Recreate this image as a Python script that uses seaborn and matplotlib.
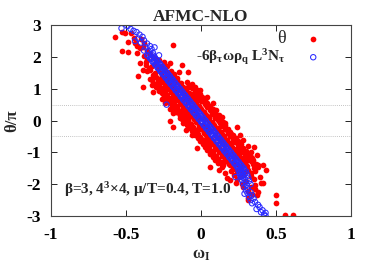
import matplotlib
matplotlib.use("Agg")
import matplotlib.pyplot as plt
import seaborn as sns
import pandas as pd

# (omega_I, theta/pi)
red_pts = [
    (-0.573, 2.63), (-0.53, 2.77), (-0.51, 2.75), (-0.47, 2.75), (-0.49, 2.47), (-0.53, 2.19),
    (-0.49, 2.15), (-0.43, 2.34), (-0.43, 2.12), (-0.19, 2.37), (-0.41, 1.81), (-0.37, 1.74),
    (-0.42, 1.40), (-0.39, 1.59), (-0.34, 1.59), (-0.32, 1.43), (-0.29, 1.27), (-0.21, 1.81),
    (-0.13, 1.74), (-0.09, 1.52), (-0.15, 1.52), (-0.19, 1.27), (-0.25, 1.05), (-0.33, 1.12),
    (-0.39, 1.05), (-0.14, 1.12), (-0.09, 1.05),
    (-0.45, 2.6), (-0.40, 2.55), (-0.38, 2.45), (-0.41, 2.28), (-0.36, 2.2), (-0.38, 2.02),
    (-0.34, 2.08), (-0.31, 1.95), (-0.36, 1.9), (-0.30, 1.82), (-0.28, 1.9), (-0.33, 1.7),
    (-0.26, 1.7), (-0.29, 1.62), (-0.24, 1.6), (-0.27, 1.5), (-0.22, 1.45), (-0.30, 1.38),
    (-0.25, 1.35), (-0.20, 1.38), (-0.23, 1.25), (-0.27, 1.2), (-0.17, 1.22), (-0.21, 1.15),
    (-0.30, 1.05), (-0.19, 1.05), (-0.12, 1.0), (-0.23, 0.98), (-0.16, 0.95), (-0.20, 0.9),
    (-0.28, 0.92), (-0.32, 0.9), (-0.10, 0.92), (-0.13, 0.88), (-0.17, 0.82), (-0.24, 0.8),
    (-0.07, 0.83), (-0.01, 0.96), (-0.05, 0.85), (-0.11, 0.78), (-0.20, 0.72), (-0.15, 0.7),
    (-0.09, 0.72), (0.04, 0.74), (-0.03, 0.7), (-0.26, 0.68), (-0.12, 0.65), (-0.06, 0.62),
    (-0.18, 0.6), (-0.22, 0.58), (0.00, 0.6), (-0.09, 0.57), (-0.24, 0.55), (0.08, 0.55),
    (-0.14, 0.52), (-0.04, 0.5), (0.03, 0.48), (-0.19, 0.48), (-0.11, 0.45), (-0.07, 0.42),
    (-0.16, 0.4), (0.05, 0.42), (-0.01, 0.38), (-0.21, 0.36), (-0.12, 0.34), (0.10, 0.33),
    (-0.05, 0.32), (-0.09, 0.28), (0.02, 0.28), (-0.17, 0.27), (-0.19, 0.24), (-0.12, 0.24),
    (0.07, 0.24), (-0.03, 0.22), (-0.07, 0.18), (0.12, 0.18), (-0.14, 0.16), (0.04, 0.15),
    (-0.10, 0.12), (0.14, 0.11), (-0.02, 0.1), (-0.14, 0.08), (0.09, 0.08), (-0.05, 0.05),
    (0.02, 0.04), (-0.09, 0.02), (-0.21, 0.0), (0.12, 0.0), (0.05, -0.02), (-0.03, -0.04),
    (0.16, -0.08), (-0.12, -0.08), (0.08, -0.1), (-0.07, -0.12), (0.01, -0.14), (0.13, -0.16),
    (-0.19, -0.2), (-0.07, -0.2), (0.04, -0.2), (0.24, -0.2), (0.10, -0.24), (-0.02, -0.26),
    (0.17, -0.3), (-0.10, -0.3), (0.06, -0.32), (0.13, -0.36), (-0.03, -0.39), (0.02, -0.4),
    (0.20, -0.42), (0.09, -0.44), (-0.06, -0.46), (0.26, -0.46), (0.15, -0.48), (0.04, -0.52),
    (0.11, -0.55), (0.22, -0.55), (0.00, -0.58), (0.17, -0.6), (0.07, -0.62), (0.28, -0.62),
    (0.13, -0.66), (0.03, -0.68), (0.20, -0.7), (0.10, -0.73), (0.25, -0.75), (0.15, -0.78),
    (0.05, -0.8), (0.31, -0.8), (0.19, -0.83), (0.35, -0.83), (-0.03, -0.87), (0.12, -0.86),
    (0.23, -0.88), (0.09, -0.9), (0.04, -0.93), (0.28, -0.93), (0.16, -0.95), (0.21, -0.98),
    (0.33, -0.98), (0.12, -1.0), (0.31, -1.02), (0.07, -1.03), (0.25, -1.05), (0.37, -1.09),
    (0.18, -1.08), (0.14, -1.12), (0.29, -1.12), (0.22, -1.15), (0.09, -1.18), (0.34, -1.17),
    (0.26, -1.2), (0.17, -1.22), (0.15, -1.3), (0.21, -1.3), (0.30, -1.27), (0.13, -1.34),
    (0.24, -1.35), (0.28, -1.4), (0.38, -1.4), (0.41, -1.4), (0.19, -1.4), (0.35, -1.49),
    (0.14, -1.46), (0.06, -1.46), (0.26, -1.48), (0.21, -1.53), (0.31, -1.55), (0.16, -1.65),
    (0.24, -1.6), (0.33, -1.65), (0.28, -1.7), (0.39, -1.78), (0.17, -1.81), (0.19, -1.87),
    (0.24, -1.85), (0.30, -1.9), (0.40, -1.97), (0.41, -1.97), (0.33, -2.09), (0.27, -2.0),
    (0.36, -2.15), (0.38, -2.25), (0.31, -2.22), (0.37, -2.34), (0.31, -2.44), (0.31, -2.5),
    (0.50, -2.34), (0.50, -2.6), (0.56, -2.97), (0.61, -2.97),
    (-0.254, 1.24), (-0.134, 1.17), (-0.294, 1.19), (-0.094, 1.22),
    (-0.237, 1.14), (-0.117, 1.07), (-0.277, 1.09), (-0.077, 1.12),
    (-0.22, 1.04), (-0.10, 0.97), (-0.26, 0.99), (-0.06, 1.02),
    (-0.203, 0.94), (-0.083, 0.87), (-0.243, 0.89), (-0.043, 0.92),
    (-0.186, 0.84), (-0.066, 0.77), (-0.226, 0.79), (-0.026, 0.82),
    (-0.169, 0.74), (-0.049, 0.67), (-0.209, 0.69), (-0.009, 0.72),
    (-0.152, 0.64), (-0.032, 0.57), (-0.192, 0.59), (0.008, 0.62),
    (-0.135, 0.54), (-0.015, 0.47), (-0.175, 0.49), (0.025, 0.52),
    (-0.118, 0.44), (0.002, 0.37), (-0.158, 0.39), (0.042, 0.42),
    (-0.101, 0.34), (0.019, 0.27), (-0.141, 0.29), (0.059, 0.32),
    (-0.084, 0.24), (0.036, 0.17), (-0.124, 0.19), (0.076, 0.22),
    (-0.067, 0.14), (0.053, 0.07), (-0.107, 0.09), (0.093, 0.12),
    (-0.05, 0.04), (0.07, -0.03), (-0.09, -0.01), (0.11, 0.02),
    (-0.033, -0.06), (0.087, -0.13), (-0.073, -0.11), (0.127, -0.08),
    (-0.016, -0.16), (0.104, -0.23), (-0.056, -0.21), (0.144, -0.18),
    (0.001, -0.26), (0.121, -0.33), (-0.039, -0.31), (0.161, -0.28),
    (0.018, -0.36), (0.138, -0.43), (-0.022, -0.41), (0.178, -0.38),
    (0.035, -0.46), (0.155, -0.53), (-0.005, -0.51), (0.195, -0.48),
    (0.052, -0.56), (0.172, -0.63), (0.012, -0.61), (0.212, -0.58),
    (0.069, -0.66), (0.189, -0.73), (0.029, -0.71), (0.229, -0.68),
    (0.086, -0.76), (0.206, -0.83), (0.046, -0.81), (0.246, -0.78),
    (0.103, -0.86), (0.223, -0.93), (0.063, -0.91), (0.263, -0.88),
    (0.12, -0.96), (0.24, -1.03), (0.08, -1.01), (0.28, -0.98),
    (0.137, -1.06), (0.257, -1.13), (0.097, -1.11), (0.297, -1.08),
    (0.154, -1.16), (0.274, -1.23), (0.114, -1.21), (0.314, -1.18),
    (0.171, -1.26), (0.291, -1.33), (0.131, -1.31), (0.331, -1.28),
    (0.188, -1.36), (0.308, -1.43), (0.148, -1.41), (0.348, -1.38),
    (-0.329, 1.26), (-0.059, 1.15), (-0.229, 1.15), (-0.159, 1.26),
    (-0.312, 1.16), (-0.042, 1.05), (-0.212, 1.05), (-0.142, 1.16),
    (-0.295, 1.06), (-0.025, 0.95), (-0.195, 0.95), (-0.125, 1.06),
    (-0.278, 0.96), (-0.008, 0.85), (-0.178, 0.85), (-0.108, 0.96),
    (-0.261, 0.86), (0.009, 0.75), (-0.161, 0.75), (-0.091, 0.86),
    (-0.244, 0.76), (0.026, 0.65), (-0.144, 0.65), (-0.074, 0.76),
    (-0.227, 0.66), (0.043, 0.55), (-0.127, 0.55), (-0.057, 0.66),
    (-0.21, 0.56), (0.06, 0.45), (-0.11, 0.45), (-0.04, 0.56),
    (-0.193, 0.46), (0.077, 0.35), (-0.093, 0.35), (-0.023, 0.46),
    (-0.176, 0.36), (0.094, 0.25), (-0.076, 0.25), (-0.006, 0.36),
    (-0.159, 0.26), (0.111, 0.15), (-0.059, 0.15), (0.011, 0.26),
    (-0.142, 0.16), (0.128, 0.05), (-0.042, 0.05), (0.028, 0.16),
    (-0.125, 0.06), (0.145, -0.05), (-0.025, -0.05), (0.045, 0.06),
    (-0.108, -0.04), (0.162, -0.15), (-0.008, -0.15), (0.062, -0.04),
    (-0.091, -0.14), (0.179, -0.25), (0.009, -0.25), (0.079, -0.14),
    (-0.074, -0.24), (0.196, -0.35), (0.026, -0.35), (0.096, -0.24),
    (-0.057, -0.34), (0.213, -0.45), (0.043, -0.45), (0.113, -0.34),
    (-0.04, -0.44), (0.23, -0.55), (0.06, -0.55), (0.13, -0.44),
    (-0.023, -0.54), (0.247, -0.65), (0.077, -0.65), (0.147, -0.54),
    (-0.006, -0.64), (0.264, -0.75), (0.094, -0.75), (0.164, -0.64),
    (0.011, -0.74), (0.281, -0.85), (0.111, -0.85), (0.181, -0.74),
    (0.028, -0.84), (0.298, -0.95), (0.128, -0.95), (0.198, -0.84),
    (0.045, -0.94), (0.315, -1.05), (0.145, -1.05), (0.215, -0.94),
    (0.062, -1.04), (0.332, -1.15), (0.162, -1.15), (0.232, -1.04),
    (0.079, -1.14), (0.349, -1.25), (0.179, -1.25), (0.249, -1.14),
    (0.096, -1.24), (0.366, -1.35), (0.196, -1.35), (0.266, -1.24),
    (0.113, -1.34), (0.383, -1.45), (0.213, -1.45), (0.283, -1.34),
    (-0.31, 1.5), (-0.35, 1.65), (-0.2, 1.55), (-0.23, 1.7), (-0.37, 1.85), (-0.25, 1.85),
    (-0.32, 2.0), (-0.27, 1.35), (-0.34, 1.3), (-0.16, 1.35), (-0.39, 2.3), (-0.44, 2.45),
    (-0.36, 1.55), (-0.18, 1.45),
    (0.22, -1.7), (0.3, -1.6), (0.36, -1.58), (0.2, -1.6), (0.26, -1.75), (0.35, -1.85),
    (0.23, -1.95), (0.36, -2.02), (0.28, -2.1), (0.34, -2.3), (0.26, -1.55), (0.33, -1.75),
    (0.12, -1.55), (0.43, -1.55),
]

blue_pts = [
    (-0.53, 2.9), (-0.49, 2.97), (-0.47, 2.88), (-0.45, 2.82), (-0.43, 2.78), (-0.41, 2.7),
    (-0.39, 2.63), (-0.42, 2.58), (-0.38, 2.52), (-0.40, 2.45), (-0.36, 2.42), (-0.34, 2.34),
    (-0.37, 2.3), (-0.33, 2.25), (-0.35, 2.18), (-0.32, 2.12), (-0.34, 2.08), (-0.36, 2.05),
    (-0.23, 0.5), (-0.44, 2.5), (-0.31, 2.3), (-0.38, 2.2), (-0.28, 2.05),
    (-0.35, 2.03), (-0.33, 1.98), (-0.31, 2.0), (-0.34, 1.955), (-0.32, 2.045),
    (-0.333, 1.93), (-0.313, 1.88), (-0.293, 1.9), (-0.323, 1.855), (-0.303, 1.945),
    (-0.316, 1.83), (-0.296, 1.78), (-0.276, 1.8), (-0.306, 1.755), (-0.286, 1.845),
    (-0.299, 1.73), (-0.279, 1.68), (-0.259, 1.7), (-0.289, 1.655), (-0.269, 1.745),
    (-0.282, 1.63), (-0.262, 1.58), (-0.242, 1.6), (-0.272, 1.555), (-0.252, 1.645),
    (-0.265, 1.53), (-0.245, 1.48), (-0.225, 1.5), (-0.255, 1.455), (-0.235, 1.545),
    (-0.248, 1.43), (-0.228, 1.38), (-0.208, 1.4), (-0.238, 1.355), (-0.218, 1.445),
    (-0.231, 1.33), (-0.211, 1.28), (-0.191, 1.3), (-0.221, 1.255), (-0.201, 1.345),
    (-0.214, 1.23), (-0.194, 1.18), (-0.174, 1.2), (-0.204, 1.155), (-0.184, 1.245),
    (-0.197, 1.13), (-0.177, 1.08), (-0.157, 1.1), (-0.187, 1.055), (-0.167, 1.145),
    (-0.18, 1.03), (-0.16, 0.98), (-0.14, 1.0), (-0.17, 0.955), (-0.15, 1.045),
    (-0.163, 0.93), (-0.143, 0.88), (-0.123, 0.9), (-0.153, 0.855), (-0.133, 0.945),
    (-0.146, 0.83), (-0.126, 0.78), (-0.106, 0.8), (-0.136, 0.755), (-0.116, 0.845),
    (-0.129, 0.73), (-0.109, 0.68), (-0.089, 0.7), (-0.119, 0.655), (-0.099, 0.745),
    (-0.112, 0.63), (-0.092, 0.58), (-0.072, 0.6), (-0.102, 0.555), (-0.082, 0.645),
    (-0.095, 0.53), (-0.075, 0.48), (-0.055, 0.5), (-0.085, 0.455), (-0.065, 0.545),
    (-0.078, 0.43), (-0.058, 0.38), (-0.038, 0.4), (-0.068, 0.355), (-0.048, 0.445),
    (-0.061, 0.33), (-0.041, 0.28), (-0.021, 0.3), (-0.051, 0.255), (-0.031, 0.345),
    (-0.044, 0.23), (-0.024, 0.18), (-0.004, 0.2), (-0.034, 0.155), (-0.014, 0.245),
    (-0.027, 0.13), (-0.007, 0.08), (0.013, 0.1), (-0.017, 0.055), (0.003, 0.145),
    (-0.01, 0.03), (0.01, -0.02), (0.03, 0.0), (0.0, -0.045), (0.02, 0.045),
    (0.007, -0.07), (0.027, -0.12), (0.047, -0.1), (0.017, -0.145), (0.037, -0.055),
    (0.024, -0.17), (0.044, -0.22), (0.064, -0.2), (0.034, -0.245), (0.054, -0.155),
    (0.041, -0.27), (0.061, -0.32), (0.081, -0.3), (0.051, -0.345), (0.071, -0.255),
    (0.058, -0.37), (0.078, -0.42), (0.098, -0.4), (0.068, -0.445), (0.088, -0.355),
    (0.075, -0.47), (0.095, -0.52), (0.115, -0.5), (0.085, -0.545), (0.105, -0.455),
    (0.092, -0.57), (0.112, -0.62), (0.132, -0.6), (0.102, -0.645), (0.122, -0.555),
    (0.109, -0.67), (0.129, -0.72), (0.149, -0.7), (0.119, -0.745), (0.139, -0.655),
    (0.126, -0.77), (0.146, -0.82), (0.166, -0.8), (0.136, -0.845), (0.156, -0.755),
    (0.143, -0.87), (0.163, -0.92), (0.183, -0.9), (0.153, -0.945), (0.173, -0.855),
    (0.16, -0.97), (0.18, -1.02), (0.2, -1.0), (0.17, -1.045), (0.19, -0.955),
    (0.177, -1.07), (0.197, -1.12), (0.217, -1.1), (0.187, -1.145), (0.207, -1.055),
    (0.194, -1.17), (0.214, -1.22), (0.234, -1.2), (0.204, -1.245), (0.224, -1.155),
    (0.211, -1.27), (0.231, -1.32), (0.251, -1.3), (0.221, -1.345), (0.241, -1.255),
    (0.228, -1.37), (0.248, -1.42), (0.268, -1.4), (0.238, -1.445), (0.258, -1.355),
    (0.245, -1.47), (0.265, -1.52), (0.285, -1.5), (0.255, -1.545), (0.275, -1.455),
    (0.25, -1.57), (0.275, -1.62), (0.30, -1.6), (0.262, -1.645), (0.288, -1.555),
    (0.258, -1.67), (0.283, -1.72), (0.308, -1.7), (0.27, -1.745), (0.296, -1.655),
    (0.23, -1.78), (0.265, -1.77), (0.29, -1.82), (0.315, -1.8),
    (0.27, -1.87), (0.297, -1.92), (0.32, -1.9),
    (0.28, -1.97), (0.305, -2.02), (0.33, -2.0),
    (0.29, -2.08), (0.31, -2.12), (0.30, -2.2), (0.33, -2.25), (0.31, -2.28), (0.34, -2.35),
    (0.32, -2.4), (0.35, -2.45), (0.36, -2.56), (0.34, -2.6), (0.38, -2.65), (0.39, -2.72),
    (0.37, -2.78), (0.41, -2.82), (0.43, -2.9), (0.42, -2.95), (0.43, -3.0), (0.40, -2.88),
    (0.33, -2.5), (0.29, -2.3),
]

x_ticks = [-1, -0.5, 0, 0.5, 1]
x_tick_labels = ["-1", "-0.5", "0", "0.5", "1"]
y_ticks = [-3, -2, -1, 0, 1, 2, 3]
guide_levels = [-0.5, 0.5]

red_df = pd.DataFrame(red_pts, columns=["omega", "theta"])
blue_df = pd.DataFrame(blue_pts, columns=["omega", "theta"])

sns.set_theme(style="ticks")
plt.rcParams["font.family"] = ["Liberation Serif", "DejaVu Serif"]
plt.rcParams["font.weight"] = "bold"
plt.rcParams["mathtext.default"] = "regular"
plt.rcParams["axes.unicode_minus"] = False

fig = plt.figure(figsize=(3.82, 2.67), dpi=100)
ax = fig.add_axes([0.1335, 0.191, 0.7855, 0.715])

for lvl in guide_levels:
    ax.axhline(lvl, color="#b0b0b0", lw=0.6, ls=(0, (1, 1.5)), zorder=0)

sns.scatterplot(data=red_df, x="omega", y="theta", ax=ax, color="#ff0000",
                s=17, linewidth=0, marker="o", label="θ")
sns.scatterplot(data=blue_df, x="omega", y="theta", ax=ax, s=15, marker="o",
                facecolors="none", edgecolor="#2a2aff", linewidth=0.75,
                label=r"-6β$_τ$ωρ$_q$ L$^3$N$_τ$")

ax.set_xlim(-1, 1)
ax.set_ylim(-3, 3)
ax.set_xticks(x_ticks)
ax.set_xticklabels(x_tick_labels)
ax.set_yticks(y_ticks)
ax.tick_params(direction="in", length=4, width=0.6, top=True, right=True,
               labelsize=12.5, colors="black")
ax.tick_params(axis="x", pad=8)
ax.tick_params(axis="y", pad=7)
for lab in ax.get_xticklabels() + ax.get_yticklabels():
    lab.set_fontweight("bold")
for sp in ax.spines.values():
    sp.set_linewidth(0.8)
    sp.set_color("#444444")

ax.set_xlabel(r"ω$_I$", fontsize=12, fontweight="bold", labelpad=3)
ax.set_ylabel("θ/π", fontsize=12, fontweight="bold", labelpad=5)
ax.set_title("AFMC-NLO", fontsize=12.5, fontweight="bold", pad=3)

ax.text(0.045, 0.09, r"β=3, 4$^3$×4, μ/T=0.4, T=1.0", transform=ax.transAxes,
        fontsize=11, fontweight="bold", ha="left", va="bottom")

leg = ax.legend(loc="upper right", bbox_to_anchor=(0.935, 1.02), frameon=False,
                markerfirst=False, fontsize=11, handletextpad=1.2,
                labelspacing=0.0, borderaxespad=0.2, handlelength=1.2)
texts = leg.get_texts()
texts[0].set_fontweight("normal")
texts[0].set_fontsize(13)
texts[1].set_fontweight("bold")

fig.savefig("out.png", dpi=100)
